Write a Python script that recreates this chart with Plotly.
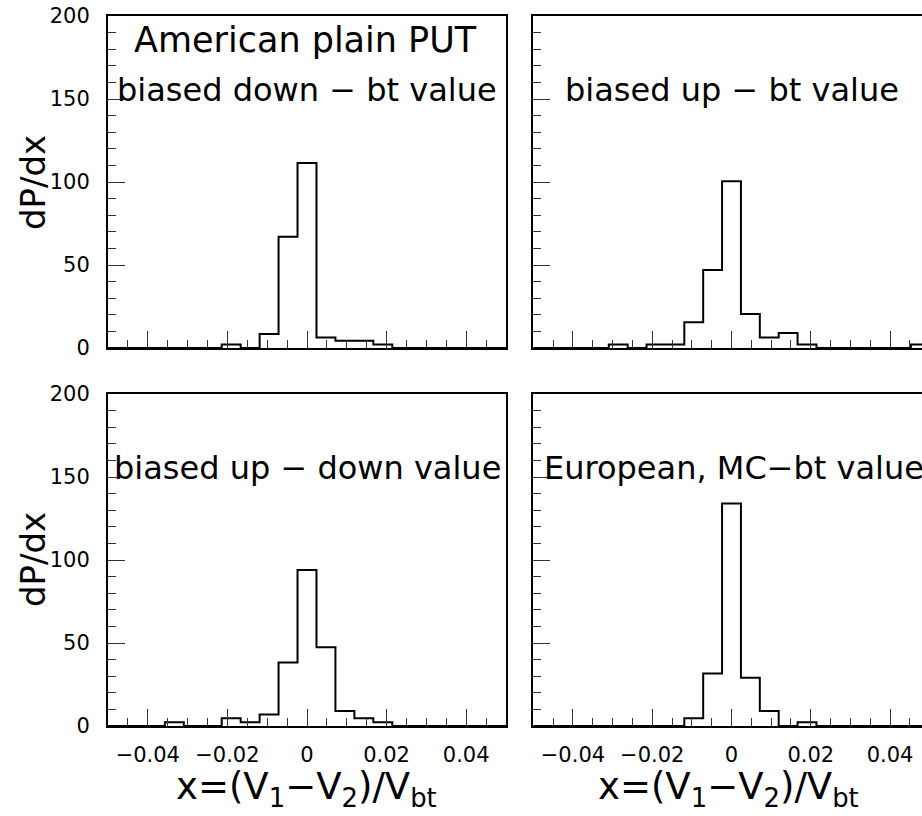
import plotly.graph_objects as go

# ---- data (dP/dx per bin), 21 bins over [-0.05, 0.05] ----
n_bins = 21
x_lo, x_hi = -0.05, 0.05
am_down_bt = [0, 0, 0, 0, 0, 0, 2.1, 0, 8.4, 67, 111.5, 6.3, 4.4, 4.4, 2.1, 0, 0, 0, 0, 0, 0]
am_up_bt = [0, 0, 0, 0, 2.1, 0, 2.1, 2.1, 15.5, 47, 100.5, 20.5, 6.3, 9, 2.1, 0, 0, 0, 0, 0, 2.1]
am_up_down = [0, 0, 0, 2.2, 0, 0, 4.6, 2.2, 7, 38.2, 94, 47.4, 9, 4.6, 2.2, 0, 0, 0, 0, 0, 0]
eu_mc_bt = [0, 0, 0, 0, 0, 0, 0, 0, 4.6, 31.7, 134, 29.1, 9, 0, 2.2, 0, 0, 0, 0, 0, 0]

panel_texts = [
    ["American plain PUT", "biased down − bt value"],
    ["biased up − bt value"],
    ["biased up − down value"],
    ["European, MC−bt value"],
]
y_title = "dP/dx"
x_title = "x=(V<sub>1</sub>−V<sub>2</sub>)/V<sub>bt</sub>"

W, H = 922, 816
FONT = "DejaVu Sans"

bw = (x_hi - x_lo) / n_bins
edges = [x_lo + i * bw for i in range(n_bins + 1)]

def px(x):
    return x / W

def py(y):
    return 1 - y / H

fig = go.Figure()
series = [am_down_bt, am_up_bt, am_up_down, eu_mc_bt]
for i, vals in enumerate(series):
    ax = "" if i == 0 else str(i + 1)
    fig.add_trace(go.Scatter(
        x=edges, y=list(vals) + [vals[-1]], mode="lines", line_shape="hv",
        line=dict(color="black", width=2),
        xaxis="x" + ax, yaxis="y" + ax, hoverinfo="skip"))

xdom_l = [px(108), px(506)]
xdom_r = [px(533.3), 1.0]
ydom_t = [py(348), py(16)]
ydom_b = [py(726), py(394)]

def xaxis(dom, rng, labels, anchor):
    return dict(
        domain=dom, range=rng, anchor=anchor, showgrid=False, zeroline=False,
        showline=True, linecolor="black", linewidth=2, mirror=True,
        ticks="inside", ticklen=17, tickwidth=1, tickcolor="#333",
        tick0=0, dtick=0.02, showticklabels=labels,
        minor=dict(ticks="inside", ticklen=8, tickwidth=1, tickcolor="#333",
                   dtick=0.005, tick0=0),
        tickfont=dict(family=FONT, size=21, color="black"),
        ticklabelstandoff=9, automargin=False, fixedrange=True)

def yaxis(dom, labels, anchor, mirror):
    return dict(
        domain=dom, range=[0, 200], anchor=anchor, showgrid=False, zeroline=False,
        showline=True, linecolor="black", linewidth=2, mirror=mirror,
        ticks="inside", ticklen=17, tickwidth=1, tickcolor="#333",
        tick0=0, dtick=50, showticklabels=labels,
        minor=dict(ticks="inside", ticklen=8, tickwidth=1, tickcolor="#333",
                   dtick=10, tick0=0),
        tickfont=dict(family=FONT, size=21, color="black"),
        ticklabelstandoff=12, automargin=False, fixedrange=True)

r_right = [-0.05, -0.05 + (922 - 533.3) / (929.7 - 533.3) * 0.1]

fig.update_layout(
    width=W, height=H, margin=dict(l=0, r=0, t=0, b=0),
    paper_bgcolor="white", plot_bgcolor="white", showlegend=False,
    xaxis=xaxis(xdom_l, [x_lo, x_hi], False, "y"),
    yaxis=yaxis(ydom_t, True, "x", True),
    xaxis2=xaxis(xdom_r, r_right, False, "y2"),
    yaxis2=yaxis(ydom_t, False, "x2", False),
    xaxis3=xaxis(xdom_l, [x_lo, x_hi], True, "y3"),
    yaxis3=yaxis(ydom_b, True, "x3", True),
    xaxis4=xaxis(xdom_r, r_right, True, "y4"),
    yaxis4=yaxis(ydom_b, False, "x4", False),
)

ann = []
def text(t, x, y, size, xanchor="center"):
    ann.append(dict(text=t, x=px(x), y=py(y), xref="paper", yref="paper",
                    xanchor=xanchor, yanchor="middle", showarrow=False,
                    font=dict(family=FONT, size=size, color="black")))

text(panel_texts[0][0], 305, 40, 35)
text(panel_texts[0][1], 307, 90, 32)
text(panel_texts[1][0], 732, 90, 32)
text(panel_texts[2][0], 307, 468, 32)
text(panel_texts[3][0], 541.7, 468, 32, xanchor="left")

for yc in (183, 560):
    ann.append(dict(text=y_title, x=px(33), y=py(yc), xref="paper", yref="paper",
                    textangle=-90, showarrow=False, xanchor="center", yanchor="middle",
                    font=dict(family=FONT, size=34, color="black")))
for xc in (306, 728):
    text(x_title, xc, 789, 37)

fig.update_layout(annotations=ann)
fig.write_html("out.html", config={"displayModeBar": False},
               post_script="document.body.style.margin='0';document.body.style.overflow='hidden';")
